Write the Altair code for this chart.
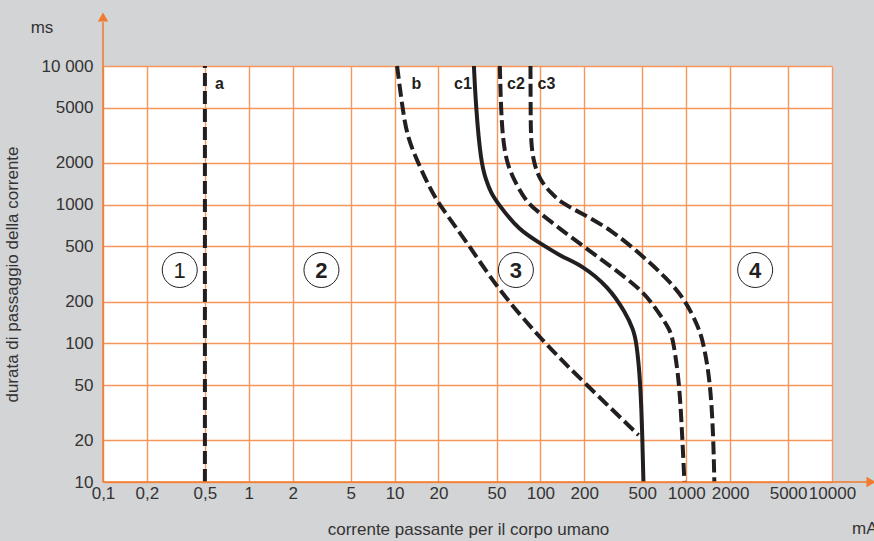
import altair as alt
import pandas as pd

FONT = "Liberation Sans, Arial, sans-serif"
INK = "#231f20"
ORANGE = "#f07a2e"
GRID = "#f5965c"
TEXT = "#333333"

# Axis tick values
x_ticks = [0.1, 0.2, 0.5, 1, 2, 5, 10, 20, 50, 100, 200, 500, 1000, 2000, 5000, 10000]
y_ticks = [10, 20, 50, 100, 200, 500, 1000, 2000, 5000, 10000]

# Time/current boundary curves (mA, ms)
a_ma = [0.5, 0.5]
a_ms = [10, 10000]
b_ma = [10.4, 11.3, 12.2, 14.5, 17.3, 20.2, 32.4, 50.3, 105, 198, 471]
b_ms = [10000, 5060, 3076, 2000, 1340, 1000, 512, 251, 102, 52.6, 21.8]
c1_ma = [35.0, 36.1, 39.1, 42.4, 45.8, 51.9, 71.2, 99, 140, 192, 294, 384, 435, 456, 486, 501, 509]
c1_ms = [10000, 5060, 2000, 1507, 1214, 995, 656, 530, 420, 367, 255, 166, 125, 102, 52.6, 20, 10]
c2_ma = [52.7, 53.6, 55.3, 58.9, 65.8, 80.7, 99, 134, 192, 308, 494, 616, 779, 817, 898, 942, 972]
c2_ms = [10000, 5060, 2926, 2000, 1507, 1028, 871, 679, 512, 355, 243, 180, 125, 102, 52.6, 20.1, 10]
c3_ma = [85.5, 85.7, 86.0, 90.2, 99, 118, 140, 195, 308, 494, 721, 988, 1211, 1311, 1465, 1536, 1560]
c3_ms = [10000, 5060, 2786, 2000, 1507, 1214, 1028, 857, 656, 433, 301, 206, 131, 102, 52.6, 21, 10]

# Curve name labels
curve_names = ["a", "b", "c1", "c2", "c3"]
curve_label_ma = [0.63, 14.1, 29.4, 67.9, 110]
curve_label_ms = [7420, 7420, 7420, 7420, 7420]

# Zone markers
zone_names = ["1", "2", "3", "4"]
zone_ma = [0.336, 3.15, 67.9, 2972]
zone_ms = [338, 338, 338, 338]
zone_weight = ["normal", "bold", "bold", "bold"]


def curve_rows(name, xs, ys, dashed):
    return [{"curve": name, "ma": x, "ms": y, "i": i, "dashed": dashed}
            for i, (x, y) in enumerate(zip(xs, ys))]


rows = (curve_rows("a", a_ma, a_ms, True) + curve_rows("b", b_ma, b_ms, True)
        + curve_rows("c1", c1_ma, c1_ms, False) + curve_rows("c2", c2_ma, c2_ms, True)
        + curve_rows("c3", c3_ma, c3_ms, True))
curves = pd.DataFrame(rows)

x_scale = alt.Scale(type="log", domain=[0.1, 10000], nice=False)
y_scale = alt.Scale(type="log", domain=[10, 10000], nice=False)

x_axis = alt.Axis(
    values=x_ticks, grid=True, gridColor=GRID, gridWidth=1.4, ticks=False, domain=False,
    labelExpr="replace(format(datum.value, '~g'), '.', ',')",
    labelFont=FONT, labelFontSize=17, labelColor=TEXT, labelPadding=3,
    labelBaseline="top", labelFlush=False, labelOverlap=False,
    title="corrente passante per il corpo umano", titleFont=FONT, titleFontSize=17,
    titleFontWeight="normal", titleColor=TEXT, titleX=365, titleY=47,
    titleBaseline="middle", titleAlign="center",
)
y_axis = alt.Axis(
    values=y_ticks, grid=True, gridColor=GRID, gridWidth=1.4, ticks=False, domain=False,
    labelExpr="datum.value == 10000 ? '10 000' : format(datum.value, 'd')",
    labelFont=FONT, labelFontSize=17, labelColor=TEXT, labelPadding=10,
    labelBaseline="middle", labelFlush=False, labelOverlap=False,
    title="durata di passaggio della corrente", titleFont=FONT, titleFontSize=17,
    titleFontWeight="normal", titleColor=TEXT, titleX=-91, titleY=208,
    titleAngle=-90, titleBaseline="middle", titleAlign="center",
)

base = alt.Chart(curves)
solid = base.transform_filter("!datum.dashed").mark_line(
    color=INK, strokeWidth=4, interpolate="basis"
).encode(
    x=alt.X("ma:Q", scale=x_scale, axis=x_axis),
    y=alt.Y("ms:Q", scale=y_scale, axis=y_axis),
    detail="curve:N", order="i:Q",
)
dashed = base.transform_filter("datum.dashed").mark_line(
    color=INK, strokeWidth=4, strokeDash=[13, 5], interpolate="basis"
).encode(
    x=alt.X("ma:Q", scale=x_scale), y=alt.Y("ms:Q", scale=y_scale),
    detail="curve:N", order="i:Q",
)

labels = alt.Chart(pd.DataFrame({"name": curve_names, "ma": curve_label_ma, "ms": curve_label_ms})).mark_text(
    font=FONT, fontSize=16, fontWeight="bold", color=INK, align="center", baseline="middle"
).encode(x=alt.X("ma:Q", scale=x_scale), y=alt.Y("ms:Q", scale=y_scale), text="name:N")

zones_df = pd.DataFrame({"name": zone_names, "ma": zone_ma, "ms": zone_ms, "w": zone_weight})
zone_rings = alt.Chart(zones_df).mark_point(
    shape="circle", size=1225, filled=False, stroke=INK, strokeWidth=1, opacity=1
).encode(x=alt.X("ma:Q", scale=x_scale), y=alt.Y("ms:Q", scale=y_scale))
zone_text_bold = alt.Chart(zones_df).transform_filter("datum.w == 'bold'").mark_text(
    font=FONT, fontSize=22, fontWeight="bold", color=INK, baseline="middle", dy=1
).encode(x=alt.X("ma:Q", scale=x_scale), y=alt.Y("ms:Q", scale=y_scale), text="name:N")
zone_text_norm = alt.Chart(zones_df).transform_filter("datum.w == 'normal'").mark_text(
    font=FONT, fontSize=22, fontWeight="normal", color=INK, baseline="middle", dy=1
).encode(x=alt.X("ma:Q", scale=x_scale), y=alt.Y("ms:Q", scale=y_scale), text="name:N")

one = pd.DataFrame({"k": [0]})
y_line = alt.Chart(one).mark_rule(color=ORANGE, strokeWidth=1.5, clip=False).encode(
    x=alt.value(0), y=alt.value(-44), y2=alt.value(416))
y_arrow = alt.Chart(one).mark_point(shape="triangle-up", size=110, filled=True, color=ORANGE,
                                    opacity=1, clip=False).encode(x=alt.value(0), y=alt.value(-49))
x_line = alt.Chart(one).mark_rule(color=ORANGE, strokeWidth=1.5, clip=False).encode(
    x=alt.value(0), x2=alt.value(772), y=alt.value(416))
x_arrow = alt.Chart(one).mark_point(shape="triangle-right", size=110, filled=True, color=ORANGE,
                                    opacity=1, clip=False).encode(x=alt.value(768), y=alt.value(416))
unit_ms = alt.Chart(one).mark_text(text="ms", font=FONT, fontSize=17, color=TEXT,
                                   align="center", baseline="middle").encode(
    x=alt.value(-61), y=alt.value(-38))
unit_ma = alt.Chart(one).mark_text(text="mA", font=FONT, fontSize=17, color=TEXT,
                                   align="left", baseline="middle").encode(
    x=alt.value(749), y=alt.value(47 + 416))

chart = alt.layer(
    solid, dashed, labels, zone_rings, zone_text_bold, zone_text_norm,
    y_line, y_arrow, x_line, x_arrow, unit_ms, unit_ma,
).properties(
    width=729, height=416,
    autosize=alt.AutoSizeParams(type="none"),
    padding={"left": 103, "top": 66, "right": 42, "bottom": 59},
    background="#d3d4d6",
).configure_view(fill="white", strokeWidth=0)

chart.save("out.html", embed_options={"renderer": "svg", "actions": False})
